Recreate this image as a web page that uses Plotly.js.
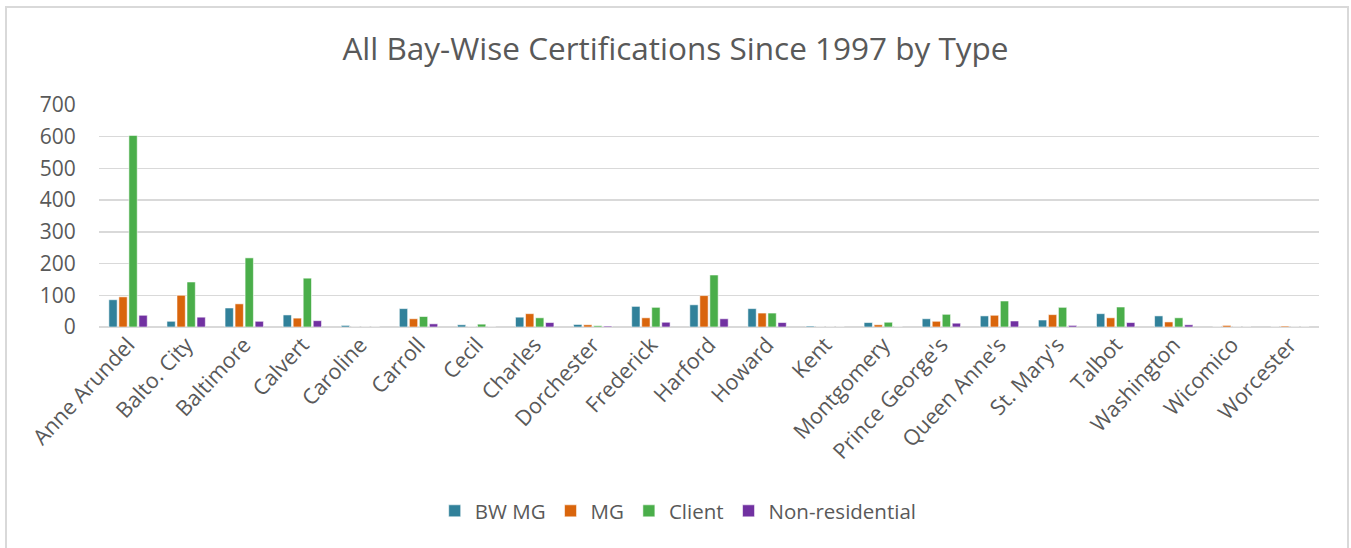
<!DOCTYPE html>
<html>
<head>
<meta charset="utf-8">
<script src="https://cdn.plot.ly/plotly-3.0.1.min.js"></script>
<style>
  html, body { margin:0; padding:0; background:#fff; }
  #wrap { position:relative; width:1351px; height:548px; overflow:hidden; }
  #chart { position:absolute; left:0; top:0; width:1351px; height:548px; }
  #frame { position:absolute; left:5px; top:6px; width:1340px; height:600px; border:2px solid #d9d9d9; pointer-events:none; }
</style>
</head>
<body>
<div id="wrap"><div id="chart"></div><div id="frame"></div></div>
<script>
const categories = ["Anne Arundel","Balto. City","Baltimore","Calvert","Caroline","Carroll","Cecil","Charles","Dorchester","Frederick","Harford","Howard","Kent","Montgomery","Prince George's","Queen Anne's","St. Mary's","Talbot","Washington","Wicomico","Worcester"];
const bwMG          = [86, 18, 60, 38, 5, 58, 7, 31, 8, 65, 70, 58, 3, 14, 26, 35, 22, 42, 35, 0, 0];
const mg            = [95, 100, 73, 28, 0, 26, 0, 42, 7, 29, 99, 44, 0, 7, 18, 37, 39, 29, 16, 5, 3];
const client        = [604, 142, 218, 154, 0, 33, 9, 29, 4, 62, 164, 44, 0, 15, 40, 82, 62, 63, 29, 0, 0];
const nonResidential= [37, 31, 18, 20, 0, 10, 0, 14, 3, 15, 26, 14, 0, 0, 12, 19, 5, 14, 7, 0, 0];
const seriesNames = ["BW MG", "MG", "Client", "Non-residential"];
const seriesColors = ["#31819a", "#d9650c", "#4aae4a", "#7131a1"];
const yTicks = [0, 100, 200, 300, 400, 500, 600, 700];

const values = [bwMG, mg, client, nonResidential];
const traces = values.map((v, i) => ({
  type: 'bar',
  name: seriesNames[i],
  x: categories,
  y: v,
  marker: { color: seriesColors[i], line: { color: 'rgba(255,255,255,0.7)', width: 0.8 } },
  hoverinfo: 'x+y+name'
}));

const layout = {
  width: 1351, height: 548,
  paper_bgcolor: 'rgba(0,0,0,0)',
  plot_bgcolor: '#fff',
  margin: { l: 99, r: 32, t: 105, b: 221 },
  title: { text: 'All Bay-Wise Certifications Since 1997 by Type', x: 0.5, xref: 'container', xanchor: 'center',
           y: 1 - 49 / 548, yref: 'container', yanchor: 'middle',
           font: { family: 'Open Sans, sans-serif', size: 31.5, color: '#595959' } },
  barmode: 'group',
  bargap: 0.31,
  bargroupgap: 0.17,
  font: { family: 'Open Sans, sans-serif', color: '#595959' },
  xaxis: {
    type: 'category',
    tickangle: -47,
    tickfont: { size: 21.5, color: '#595959' },
    showgrid: false,
    showline: false,
    ticks: '',
    automargin: false
  },
  yaxis: {
    range: [0, 700],
    tickvals: yTicks,
    ticktext: yTicks.map(String),
    tickfont: { size: 21, color: '#595959' },
    gridcolor: '#d9d9d9',
    gridwidth: 1.5,
    zeroline: true,
    zerolinecolor: '#d9d9d9',
    zerolinewidth: 1.5,
    showline: false,
    ticks: 'outside',
    ticklen: 18,
    tickcolor: 'rgba(0,0,0,0)',
    fixedrange: true,
    automargin: false
  },
  showlegend: true,
  legend: {
    orientation: 'h',
    x: 0.502, xref: 'container', xanchor: 'center',
    y: 37 / 548, yref: 'container', yanchor: 'middle',
    font: { size: 20.5, color: '#595959' },
    itemwidth: 30,
    tracegroupgap: 0
  }
};

Plotly.newPlot('chart', traces, layout, { displayModeBar: false, staticPlot: true });
</script>
</body>
</html>
